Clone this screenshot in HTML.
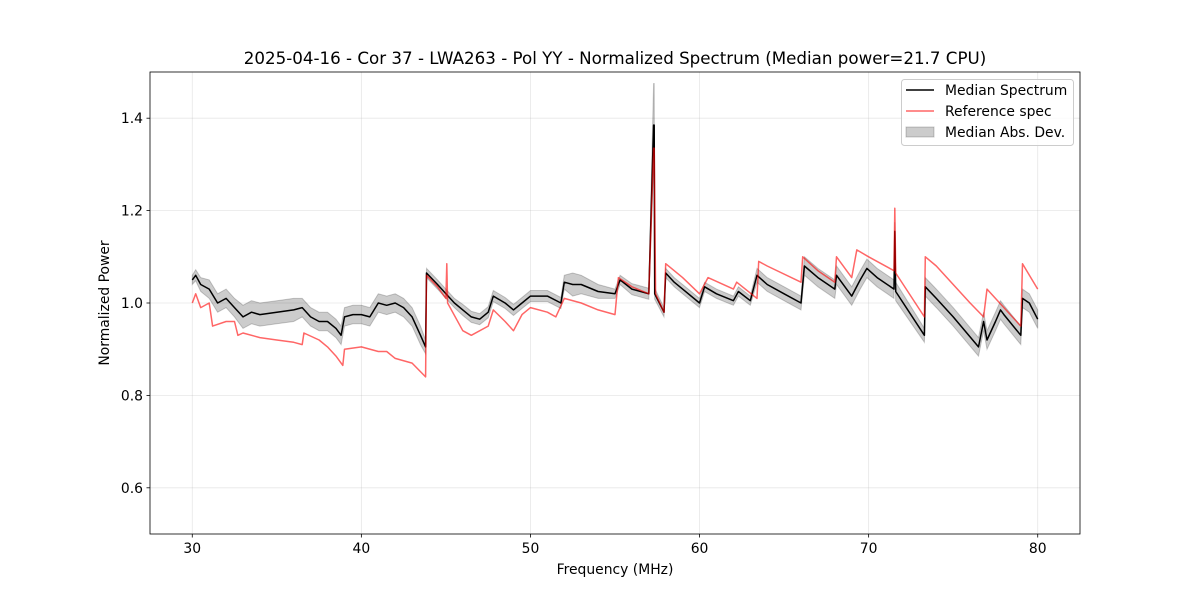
<!DOCTYPE html>
<html><head><meta charset="utf-8"><style>
body{margin:0;background:#fff;}
svg{display:block;font-family:"DejaVu Sans","Liberation Sans",sans-serif;}
</style></head><body>
<svg id="chart" width="1200" height="600" xmlns="http://www.w3.org/2000/svg"></svg>
<script>
const medFreq=[30.0,30.2,30.5,31,31.5,32,32.5,33,33.5,34,35,36,36.5,37,37.5,38,38.5,38.8,39,39.5,40,40.5,41,41.5,42,42.5,43,43.5,43.8,43.85,44.5,45,45.5,46,46.5,47,47.5,47.8,48.5,49,49.5,50,51,51.8,52,52.5,53,54,55,55.3,56,57,57.28,57.32,57.35,57.9,58,58.5,59,60,60.3,61,62,62.3,63,63.4,64,65,66,66.2,67,68,68.1,69,69.5,69.9,70.5,71.5,71.55,71.6,73.3,73.35,74,75,76.5,76.8,77,77.5,77.8,78,79,79.1,79.5,80];
const medVal=[1.05,1.06,1.04,1.03,1.0,1.01,0.99,0.97,0.98,0.975,0.98,0.985,0.99,0.97,0.96,0.96,0.945,0.93,0.97,0.975,0.975,0.97,1.0,0.995,1.0,0.99,0.97,0.93,0.905,1.065,1.04,1.02,1.0,0.985,0.97,0.965,0.98,1.015,1.0,0.985,1.0,1.015,1.015,1.0,1.045,1.04,1.04,1.025,1.02,1.05,1.03,1.02,1.385,1.385,1.02,0.98,1.065,1.045,1.03,1.0,1.035,1.02,1.005,1.025,1.005,1.06,1.04,1.02,1.0,1.08,1.055,1.03,1.06,1.015,1.05,1.075,1.055,1.03,1.155,1.025,0.93,1.035,1.01,0.97,0.905,0.96,0.92,0.96,0.985,0.975,0.93,1.01,1.0,0.965];
const madVal=[0.01,0.012,0.015,0.02,0.02,0.02,0.02,0.025,0.025,0.025,0.025,0.025,0.02,0.02,0.02,0.02,0.02,0.02,0.02,0.02,0.02,0.02,0.02,0.02,0.02,0.02,0.02,0.02,0.015,0.01,0.01,0.01,0.01,0.012,0.012,0.012,0.012,0.012,0.012,0.012,0.012,0.012,0.012,0.012,0.015,0.025,0.02,0.015,0.01,0.01,0.012,0.012,0.09,0.09,0.012,0.01,0.01,0.01,0.01,0.01,0.01,0.01,0.01,0.01,0.01,0.015,0.015,0.015,0.015,0.02,0.02,0.02,0.02,0.02,0.02,0.02,0.02,0.02,0.02,0.02,0.015,0.02,0.02,0.02,0.02,0.02,0.02,0.02,0.02,0.02,0.02,0.02,0.02,0.02];
const refFreq=[30,30.2,30.5,31,31.2,32,32.5,32.7,33,34,35,36,36.5,36.6,37.5,38,38.5,38.9,39,40,41,41.5,42,43,43.8,43.85,44.5,45,45.05,45.1,46,46.5,47.5,47.8,48.5,49,49.5,50,51,51.5,52,53,54,55,55.2,56,57,57.28,57.32,57.4,57.9,58,59,60,60.5,62,62.2,63.4,63.5,64,66,66.1,67,68,68.1,69,69.3,70,71.5,71.55,71.6,73.3,73.35,74,76,76.8,77,78,79,79.1,80];
const refVal=[1.0,1.02,0.99,1.0,0.95,0.96,0.96,0.93,0.935,0.925,0.92,0.915,0.91,0.935,0.92,0.905,0.885,0.865,0.9,0.905,0.895,0.895,0.88,0.87,0.84,1.06,1.035,1.01,1.085,1.0,0.94,0.93,0.95,0.985,0.96,0.94,0.975,0.99,0.98,0.97,1.01,1.0,0.985,0.975,1.055,1.035,1.02,1.335,1.335,1.02,0.98,1.085,1.055,1.02,1.055,1.03,1.045,1.01,1.09,1.08,1.045,1.1,1.07,1.045,1.1,1.055,1.115,1.1,1.07,1.205,1.065,0.97,1.1,1.08,1.0,0.97,1.03,0.99,0.95,1.085,1.03];
const xTicks=[30,40,50,60,70,80];
const yTicks=[0.6,0.8,1.0,1.2,1.4];

const L=150,R=1080,T=72,B=534;
const X=f=>L+(f-27.5)/(82.5-27.5)*(R-L);
const Y=v=>B-(v-0.5)/(1.5-0.5)*(B-T);
const NS='http://www.w3.org/2000/svg';
const svg=document.getElementById('chart');
function mk(tag,attrs,parent){const e=document.createElementNS(NS,tag);for(const k in attrs)e.setAttribute(k,attrs[k]);(parent||svg).appendChild(e);return e;}

xTicks.forEach(t=>{const g=mk('line',{x1:X(t),x2:X(t),y1:T,y2:B,stroke:'#b0b0b0','stroke-opacity':0.3,'stroke-width':0.8});

});
yTicks.forEach(t=>{const g=mk('line',{x1:L,x2:R,y1:Y(t),y2:Y(t),stroke:'#b0b0b0','stroke-opacity':0.3,'stroke-width':0.8});

});

let up=medFreq.map((f,i)=>X(f).toFixed(1)+','+Y(medVal[i]+madVal[i]).toFixed(1));
let dn=medFreq.map((f,i)=>X(f).toFixed(1)+','+Y(medVal[i]-madVal[i]).toFixed(1)).reverse();
const band=mk('polygon',{points:up.concat(dn).join(' '),fill:'#000','fill-opacity':0.2,stroke:'#000','stroke-opacity':0.2});



const med=mk('polyline',{points:medFreq.map((f,i)=>X(f).toFixed(1)+','+Y(medVal[i]).toFixed(1)).join(' '),fill:'none',stroke:'#000','stroke-width':1.5,'stroke-linejoin':'round'});


const ref=mk('polyline',{points:refFreq.map((f,i)=>X(f).toFixed(1)+','+Y(refVal[i]).toFixed(1)).join(' '),fill:'none',stroke:'#f00','stroke-opacity':0.6,'stroke-width':1.5,'stroke-linejoin':'round'});



const fr=mk('rect',{x:L,y:T,width:R-L,height:B-T,fill:'none',stroke:'#000','stroke-width':0.8});



xTicks.forEach(t=>{mk('line',{x1:X(t),x2:X(t),y1:B,y2:B+3.5,stroke:'#000','stroke-width':0.8});
const tx=mk('text',{x:X(t),y:B+19,'text-anchor':'middle','font-size':13.9});tx.textContent=t;

});
yTicks.forEach(t=>{mk('line',{x1:L-3.5,x2:L,y1:Y(t),y2:Y(t),stroke:'#000','stroke-width':0.8});
const tx=mk('text',{x:L-7,y:Y(t)+5,'text-anchor':'end','font-size':13.9});tx.textContent=t.toFixed(1);

});
</script>
<script>
(function(){
const svg=document.getElementById('chart');const NS='http://www.w3.org/2000/svg';
function t(x,y,s,size,anchor,rot,name){const e=document.createElementNS(NS,'text');e.setAttribute('x',x);e.setAttribute('y',y);e.setAttribute('font-size',size);e.setAttribute('text-anchor',anchor);if(rot)e.setAttribute('transform',rot);e.textContent=s;


svg.appendChild(e);}
t(615,64,'2025-04-16 - Cor 37 - LWA263 - Pol YY - Normalized Spectrum (Median power=21.7 CPU)',16.7,'middle',null,'chart-title');
t(615,574,'Frequency (MHz)',13.9,'middle',null,'x-axis-title');
t(109,303,'Normalized Power',13.9,'middle','rotate(-90 109 303)','y-axis-title');
const g=document.createElementNS(NS,'g');


svg.appendChild(g);
g.innerHTML='<rect x="901.5" y="79.5" width="172" height="66" rx="3" fill="#fff" fill-opacity="0.8" stroke="#ccc"/>'+
'<line x1="906" x2="934" y1="90" y2="90" stroke="#000" stroke-width="1.5"/>'+
'<line x1="906" x2="934" y1="111" y2="111" stroke="#f00" stroke-opacity="0.6" stroke-width="1.5"/>'+
'<rect x="906" y="127" width="28" height="10" fill="#000" fill-opacity="0.2" stroke="#000" stroke-opacity="0.2"/>'+
'<text x="945" y="95" font-size="13.9">Median Spectrum</text>'+
'<text x="945" y="116" font-size="13.9">Reference spec</text>'+
'<text x="945" y="137" font-size="13.9">Median Abs. Dev.</text>';
})();
</script>
</body></html>
